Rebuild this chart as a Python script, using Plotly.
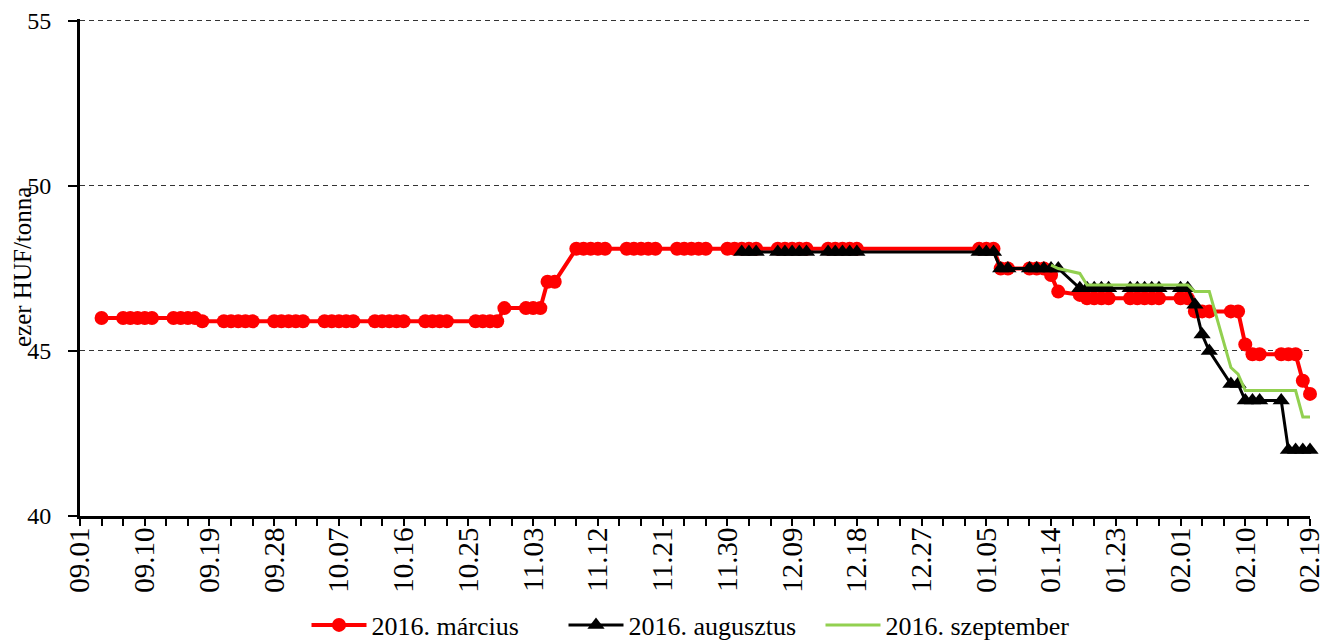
import plotly.graph_objects as go

# ---------------- data ----------------
dates_marcius = [
    "2015-09-04",
    "2015-09-07", "2015-09-08", "2015-09-09", "2015-09-10", "2015-09-11",
    "2015-09-14", "2015-09-15", "2015-09-16", "2015-09-17", "2015-09-18",
    "2015-09-21", "2015-09-22", "2015-09-23", "2015-09-24", "2015-09-25",
    "2015-09-28", "2015-09-29", "2015-09-30", "2015-10-01", "2015-10-02",
    "2015-10-05", "2015-10-06", "2015-10-07", "2015-10-08", "2015-10-09",
    "2015-10-12", "2015-10-13", "2015-10-14", "2015-10-15", "2015-10-16",
    "2015-10-19", "2015-10-20", "2015-10-21", "2015-10-22",
    "2015-10-26", "2015-10-27", "2015-10-28", "2015-10-29", "2015-10-30",
    "2015-11-02", "2015-11-03", "2015-11-04", "2015-11-05", "2015-11-06",
    "2015-11-09", "2015-11-10", "2015-11-11", "2015-11-12", "2015-11-13",
    "2015-11-16", "2015-11-17", "2015-11-18", "2015-11-19", "2015-11-20",
    "2015-11-23", "2015-11-24", "2015-11-25", "2015-11-26", "2015-11-27",
    "2015-11-30", "2015-12-01", "2015-12-02", "2015-12-03", "2015-12-04",
    "2015-12-07", "2015-12-08", "2015-12-09", "2015-12-10", "2015-12-11",
    "2015-12-14", "2015-12-15", "2015-12-16", "2015-12-17", "2015-12-18",
    "2016-01-04", "2016-01-05", "2016-01-06", "2016-01-07", "2016-01-08",
    "2016-01-11", "2016-01-12", "2016-01-13", "2016-01-14", "2016-01-15",
    "2016-01-18", "2016-01-19", "2016-01-20", "2016-01-21", "2016-01-22",
    "2016-01-25", "2016-01-26", "2016-01-27", "2016-01-28", "2016-01-29",
    "2016-02-01", "2016-02-02", "2016-02-03", "2016-02-04", "2016-02-05",
    "2016-02-08", "2016-02-09", "2016-02-10", "2016-02-11", "2016-02-12",
    "2016-02-15", "2016-02-16", "2016-02-17", "2016-02-18", "2016-02-19",
]
values_marcius = [
    46.0,
    46.0, 46.0, 46.0, 46.0, 46.0,
    46.0, 46.0, 46.0, 46.0, 45.9,
    45.9, 45.9, 45.9, 45.9, 45.9,
    45.9, 45.9, 45.9, 45.9, 45.9,
    45.9, 45.9, 45.9, 45.9, 45.9,
    45.9, 45.9, 45.9, 45.9, 45.9,
    45.9, 45.9, 45.9, 45.9,
    45.9, 45.9, 45.9, 45.9, 46.3,
    46.3, 46.3, 46.3, 47.1, 47.1,
    48.1, 48.1, 48.1, 48.1, 48.1,
    48.1, 48.1, 48.1, 48.1, 48.1,
    48.1, 48.1, 48.1, 48.1, 48.1,
    48.1, 48.1, 48.1, 48.1, 48.1,
    48.1, 48.1, 48.1, 48.1, 48.1,
    48.1, 48.1, 48.1, 48.1, 48.1,
    48.1, 48.1, 48.1, 47.5, 47.5,
    47.5, 47.5, 47.5, 47.3, 46.8,
    46.7, 46.6, 46.6, 46.6, 46.6,
    46.6, 46.6, 46.6, 46.6, 46.6,
    46.6, 46.6, 46.2, 46.2, 46.2,
    46.2, 46.2, 45.2, 44.9, 44.9,
    44.9, 44.9, 44.9, 44.1, 43.7,
]

dates_augusztus = [
    "2015-12-02", "2015-12-03", "2015-12-04",
    "2015-12-07", "2015-12-08", "2015-12-09", "2015-12-10", "2015-12-11",
    "2015-12-14", "2015-12-15", "2015-12-16", "2015-12-17", "2015-12-18",
    "2016-01-04", "2016-01-05", "2016-01-06", "2016-01-07", "2016-01-08",
    "2016-01-11", "2016-01-12", "2016-01-13", "2016-01-14", "2016-01-15",
    "2016-01-18", "2016-01-19", "2016-01-20", "2016-01-21", "2016-01-22",
    "2016-01-25", "2016-01-26", "2016-01-27", "2016-01-28", "2016-01-29",
    "2016-02-01", "2016-02-02", "2016-02-03", "2016-02-04", "2016-02-05",
    "2016-02-08", "2016-02-09", "2016-02-10", "2016-02-11", "2016-02-12",
    "2016-02-15", "2016-02-16", "2016-02-17", "2016-02-18", "2016-02-19",
]
values_augusztus = [
    48.0, 48.0, 48.0,
    48.0, 48.0, 48.0, 48.0, 48.0,
    48.0, 48.0, 48.0, 48.0, 48.0,
    48.0, 48.0, 48.0, 47.5, 47.5,
    47.5, 47.5, 47.5, 47.5, 47.5,
    46.9, 46.9, 46.9, 46.9, 46.9,
    46.9, 46.9, 46.9, 46.9, 46.9,
    46.9, 46.9, 46.4, 45.5, 45.0,
    44.0, 44.0, 43.5, 43.5, 43.5,
    43.5, 42.0, 42.0, 42.0, 42.0,
]

dates_szeptember = [
    "2016-01-14", "2016-01-15",
    "2016-01-18", "2016-01-19", "2016-01-20", "2016-01-21", "2016-01-22",
    "2016-01-25", "2016-01-26", "2016-01-27", "2016-01-28", "2016-01-29",
    "2016-02-01", "2016-02-02", "2016-02-03", "2016-02-04", "2016-02-05",
    "2016-02-08", "2016-02-09", "2016-02-10", "2016-02-11", "2016-02-12",
    "2016-02-15", "2016-02-16", "2016-02-17", "2016-02-18", "2016-02-19",
]
values_szeptember = [
    47.6, 47.5,
    47.35, 47.0, 47.0, 47.0, 47.0,
    47.0, 47.0, 47.0, 47.0, 47.0,
    47.0, 47.0, 46.8, 46.8, 46.8,
    44.5, 44.3, 43.8, 43.8, 43.8,
    43.8, 43.8, 43.8, 43.0, 43.0,
]

series_names = ["2016. március", "2016. augusztus", "2016. szeptember"]

x_tick_dates = [
    "2015-09-01", "2015-09-10", "2015-09-19", "2015-09-28", "2015-10-07",
    "2015-10-16", "2015-10-25", "2015-11-03", "2015-11-12", "2015-11-21",
    "2015-11-30", "2015-12-09", "2015-12-18", "2015-12-27", "2016-01-05",
    "2016-01-14", "2016-01-23", "2016-02-01", "2016-02-10", "2016-02-19",
]
x_tick_labels = [
    "09.01", "09.10", "09.19", "09.28", "10.07", "10.16", "10.25", "11.03",
    "11.12", "11.21", "11.30", "12.09", "12.18", "12.27", "01.05", "01.14",
    "01.23", "02.01", "02.10", "02.19",
]
y_tick_values = [40, 45, 50, 55]
y_title = "ezer HUF/tonna"

# ---------------- figure ----------------
FONT = "Liberation Serif, Times New Roman, serif"

fig = go.Figure()
fig.add_trace(go.Scatter(
    x=dates_marcius, y=values_marcius, name=series_names[0],
    mode="lines+markers",
    line=dict(color="#FF0000", width=4),
    marker=dict(symbol="circle", size=14, color="#FF0000"),
    cliponaxis=False,
))
fig.add_trace(go.Scatter(
    x=dates_augusztus, y=values_augusztus, name=series_names[1],
    mode="lines+markers",
    line=dict(color="#000000", width=3),
    marker=dict(symbol="triangle-up", size=15, color="#000000"),
    cliponaxis=False,
))
fig.add_trace(go.Scatter(
    x=dates_szeptember, y=values_szeptember, name=series_names[2],
    mode="lines",
    line=dict(color="#92D050", width=3),
    cliponaxis=False,
))

# The page body adds an 8px offset, so the figure is sized/shifted to land the
# plot area at x 80..1310, y 21..516 in the window.
fig.update_layout(
    width=1324, height=641,
    margin=dict(l=72, r=22, t=11, b=133),
    paper_bgcolor="white", plot_bgcolor="white",
    font=dict(family=FONT, size=26, color="black"),
    showlegend=True,
    legend=dict(
        orientation="h", xref="container", yref="container",
        x=(692 - 8) / 1324, xanchor="center", y=(641 - 617) / 641, yanchor="middle",
        font=dict(family=FONT, size=26, color="black"),
        itemwidth=55, entrywidth=187, entrywidthmode="pixels",
        bgcolor="rgba(0,0,0,0)",
    ),
    xaxis=dict(
        type="date",
        range=["2015-09-01", "2016-02-19"],
        tickmode="array", tickvals=x_tick_dates, ticktext=x_tick_labels,
        tickangle=-90,
        ticks="outside", ticklen=7, tickwidth=2, tickcolor="black",
        showline=True, linecolor="black", linewidth=3,
        showgrid=False, zeroline=False,
        tickfont=dict(family=FONT, size=29, color="black"),
        ticklabelstandoff=-10,
        minor=dict(ticks="outside", ticklen=7, tickwidth=2, tickcolor="black",
                   dtick=3 * 86400000, tick0="2015-09-01", showgrid=False),
        automargin=False,
    ),
    yaxis=dict(
        range=[40, 55.06],
        tickmode="array", tickvals=y_tick_values,
        ticks="outside", ticklen=9, tickwidth=2, tickcolor="black",
        showline=True, linecolor="black", linewidth=3,
        showgrid=True, gridcolor="#333333", gridwidth=1, griddash="5px,4px",
        zeroline=False,
        tickfont=dict(family=FONT, size=24, color="black"),
        ticklabelstandoff=12, ticklabeloverflow="allow",
        automargin=False,
    ),
    annotations=[dict(
        text=y_title, textangle=-90,
        xref="paper", yref="paper", x=(22.5 - 80) / 1230, y=0.5,
        xanchor="center", yanchor="middle", showarrow=False,
        font=dict(family=FONT, size=25, color="black"),
    )],
)

fig.write_html("out.html")
